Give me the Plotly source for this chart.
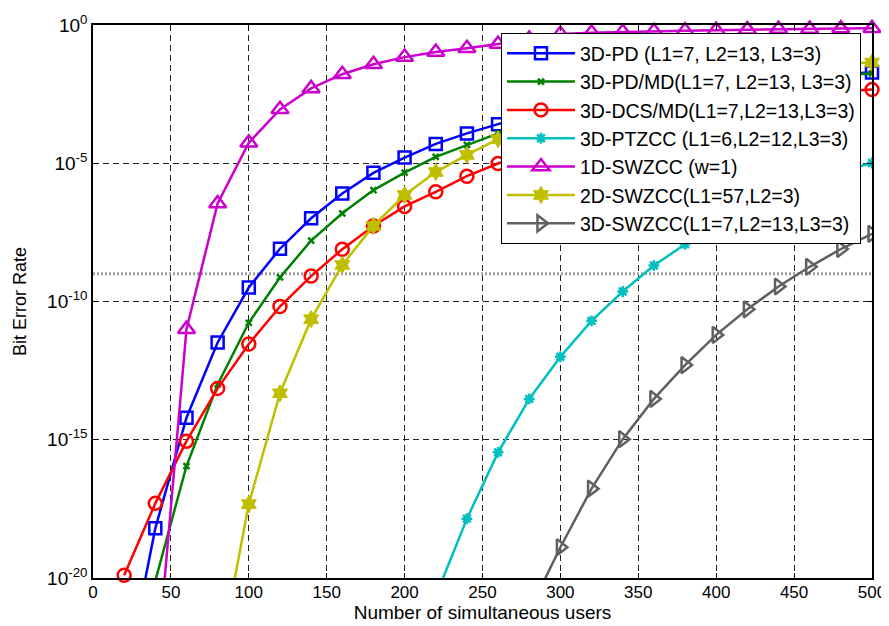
import plotly.graph_objects as go

# x values (number of simultaneous users)
users = [20, 40, 60, 80, 100, 120, 140, 160, 180, 200, 220, 240, 260,
         280, 300, 320, 340, 360, 380, 400, 420, 440, 460, 480, 500]

# Bit error rate per scheme
ber_3d_pd = [1.26e-24, 6.3e-19, 6.3e-15, 3.3e-12, 3.2e-10, 8.1e-9, 1.02e-7, 8.1e-7,
             4.5e-6, 1.6e-5, 5.0e-5, 1.2e-4, 2.6e-4, 5.2e-4, 1.0e-3, 1.7e-3, 2.7e-3,
             4.0e-3, 5.6e-3, 7.6e-3, 1.0e-2, 1.26e-2, 1.5e-2, 1.74e-2, 1.9e-2]
ber_3d_pd_md = [1e-25, 7.9e-21, 1.12e-16, 1.0e-13, 1.7e-11, 7.4e-10, 1.6e-8, 1.55e-7,
                1.07e-6, 4.6e-6, 1.7e-5, 4.6e-5, 1.2e-4, 2.6e-4, 5.4e-4, 1.0e-3, 1.8e-3,
                3.0e-3, 4.5e-3, 6.3e-3, 8.5e-3, 1.1e-2, 1.35e-2, 1.58e-2, 1.78e-2]
ber_3d_dcs_md = [1.26e-20, 5.0e-18, 8.9e-16, 7.2e-14, 2.9e-12, 6.6e-11, 8.3e-10, 7.8e-9,
                 5.4e-8, 2.75e-7, 9.3e-7, 3.4e-6, 9.8e-6, 2.5e-5, 6.0e-5, 1.3e-4, 2.6e-4,
                 4.8e-4, 7.9e-4, 1.26e-3, 1.86e-3, 2.6e-3, 3.4e-3, 4.0e-3, 4.6e-3]
users_ptzcc = users[10:]
ber_3d_ptzcc = [2.2e-21, 1.4e-18, 3.5e-16, 3.0e-14, 1.0e-12, 2.0e-11, 2.3e-10, 2.0e-9,
                1.17e-8, 5.9e-8, 2.4e-7, 7.9e-7, 2.2e-6, 5.0e-6, 1.02e-5]
users_1d = users[1:]
ber_1d_swzcc = [1.26e-24, 1.0e-11, 3.5e-7, 5.5e-5, 8.9e-4, 5.1e-3, 1.66e-2, 3.8e-2,
                6.9e-2, 0.105, 0.145, 0.204, 0.32, 0.47, 0.52, 0.56, 0.59, 0.62, 0.65,
                0.68, 0.71, 0.72, 0.74, 0.76]
users_2d = users[3:]
ber_2d_swzcc = [5.0e-24, 4.7e-18, 4.8e-14, 2.3e-11, 2.1e-9, 5.4e-8, 7.1e-7, 4.8e-6,
                2.0e-5, 7.4e-5, 2.2e-4, 6.0e-4, 1.4e-3, 3.0e-3, 5.4e-3, 8.9e-3, 1.38e-2,
                2.0e-2, 2.7e-2, 3.4e-2, 4.0e-2, 4.4e-2]
users_3d_sw = users[13:]
ber_3d_swzcc = [6.3e-22, 1.3e-19, 1.7e-17, 1.05e-15, 3.0e-14, 5.0e-13, 6.2e-12, 5.2e-11,
                3.5e-10, 1.8e-9, 7.9e-9, 2.8e-8]

threshold_x = [0, 500]
threshold_ber = [1e-9, 1e-9]

x_ticks = [0, 50, 100, 150, 200, 250, 300, 350, 400, 450, 500]
y_ticks = [1e-20, 1e-15, 1e-10, 1e-5, 1]
y_ticktext = ["10<sup>-20</sup>", "10<sup>-15</sup>", "10<sup>-10</sup>",
              "10<sup>-5</sup>", "10<sup>0</sup>"]

FONT = "Arial, Liberation Sans, sans-serif"

fig = go.Figure()

fig.add_trace(go.Scatter(x=threshold_x, y=threshold_ber, mode="lines",
                         line=dict(color="#a0a0a0", width=3, dash="2px,2px"),
                         showlegend=False, hoverinfo="skip"))

series = [
    ("3D-PD (L1=7, L2=13, L3=3)", users, ber_3d_pd, "#0000ff", "square-open", 12, 2.5, False),
    ("3D-PD/MD(L1=7, L2=13, L3=3)", users, ber_3d_pd_md, "#008000", "x-thin-open", 6, 2.5, True),
    ("3D-DCS/MD(L1=7,L2=13,L3=3)", users, ber_3d_dcs_md, "#ff0000", "circle-open", 13, 2.5, False),
    ("3D-PTZCC (L1=6,L2=12,L3=3)", users_ptzcc, ber_3d_ptzcc, "#00bfbf", "asterisk-open", 9, 2.5, True),
    ("1D-SWZCC (w=1)", users_1d, ber_1d_swzcc, "#cc00cc", "triangle-up-open", 15, 2.5, False),
    ("2D-SWZCC(L1=57,L2=3)", users_2d, ber_2d_swzcc, "#bfbf00", "hexagram", 13, 1, False),
    ("3D-SWZCC(L1=7,L2=13,L3=3)", users_3d_sw, ber_3d_swzcc, "#606060", "triangle-right-open", 14, 2.5, True),
]

for name, xs, ys, color, symbol, size, mlw, clip in series:
    fig.add_trace(go.Scatter(
        x=xs, y=ys, name=name, mode="lines+markers",
        line=dict(color=color, width=2.5),
        marker=dict(symbol=symbol, size=size, color=color,
                    line=dict(color=color, width=mlw)),
        cliponaxis=clip,
    ))

axis_common = dict(
    showline=True, linecolor="black", linewidth=1.5, mirror="ticks",
    ticks="inside", ticklen=5, tickcolor="black",
    showgrid=True, gridcolor="#222222", gridwidth=1, griddash="6px,4px",
    zeroline=False, automargin=False,
)

fig.update_xaxes(range=[0, 500], tickvals=x_ticks,
                 tickfont=dict(family=FONT, size=17, color="black"),
                 ticklabelstandoff=-2,
                 title=dict(text="Number of simultaneous users",
                            font=dict(family=FONT, size=19, color="black"), standoff=4),
                 **axis_common)
fig.update_yaxes(type="log", range=[-20, 0], tickvals=y_ticks, ticktext=y_ticktext,
                 tickfont=dict(family=FONT, size=19, color="black"),
                 title=dict(text="Bit Error Rate",
                            font=dict(family=FONT, size=18, color="black"), standoff=16),
                 **axis_common)

# page body has an 8px margin, so the figure is sized/offset to compensate
fig.update_layout(
    width=881, height=618,
    margin=dict(l=85, r=17, t=17, b=48),
    paper_bgcolor="white", plot_bgcolor="white",
    font=dict(family=FONT, color="black"),
    legend=dict(x=0.5237, y=0.9855, xanchor="left", yanchor="top",
                bgcolor="white", bordercolor="black", borderwidth=1,
                font=dict(family=FONT, size=19.5, color="black"),
                itemwidth=68, tracegroupgap=0),
)

fig.write_html("out.html")
